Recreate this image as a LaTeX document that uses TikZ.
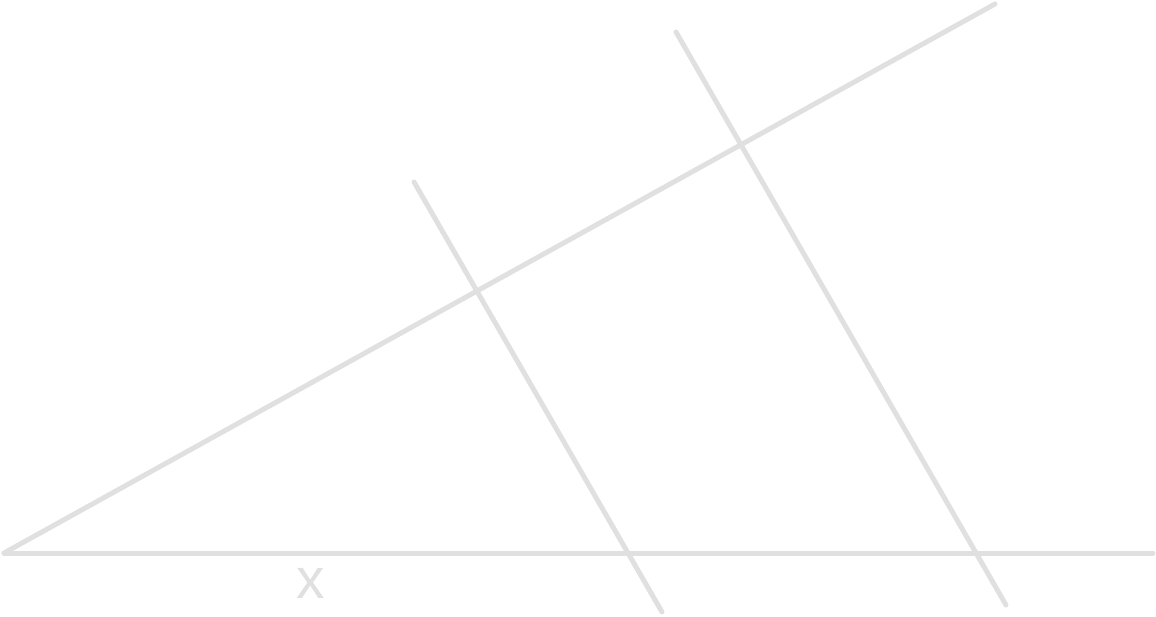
\documentclass[tikz,border=0pt]{standalone}
\usepackage{fontspec}
\setmainfont{Liberation Sans}
\definecolor{ln}{HTML}{E0E0E0}
\begin{document}
\begin{tikzpicture}[x=1pt,y=-1pt,
  seg/.style={draw=ln,line width=5pt,line cap=round},
  lbl/.style={text=ln,font=\fontsize{57}{60}\selectfont,inner sep=0pt,anchor=base}]
\useasboundingbox (0,0) rectangle (1156,617);
\coordinate (O) at (4,553);
\coordinate (E) at (1153,553);
\coordinate (D) at (995,4);
\coordinate (A1) at (414,182);
\coordinate (B1) at (662,612);
\coordinate (A2) at (676,32);
\coordinate (B2) at (1006,605);
\draw[seg] (O) -- (E);
\draw[seg] (O) -- (D);
\draw[seg] (A1) -- (B1);
\draw[seg] (A2) -- (B2);
\node[lbl] (x) at (311,598) {x};
\end{tikzpicture}
\end{document}
